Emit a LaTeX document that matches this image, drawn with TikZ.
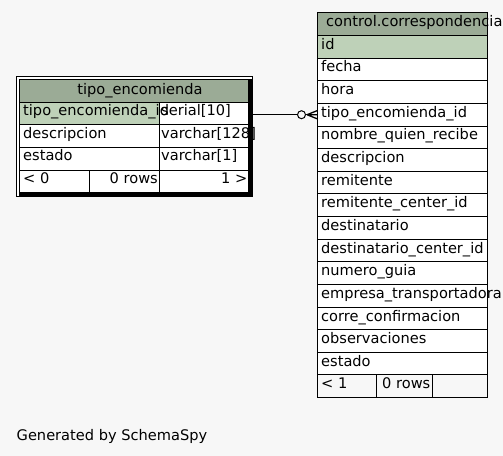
\documentclass[tikz,border=0pt]{standalone}
\usepackage{fontspec}
\setmainfont{DejaVu Sans}
\begin{document}
\begin{tikzpicture}[x=1bp,y=-1bp,
  cell/.style={draw=black, line width=1bp, anchor=north west, inner sep=0pt, minimum height=22.65bp},
  txt/.style={inner sep=0pt, font=\fontsize{14.6bp}{17bp}\selectfont, text=black},
  link/.style={draw=black, line width=1bp}]
\definecolor{bg}{HTML}{F7F7F7}
\definecolor{headbg}{HTML}{9BAB96}
\definecolor{keybg}{HTML}{BED1B8}
\useasboundingbox[fill=bg] (0,0) rectangle (503,456);

% ---------- left table: tipo_encomienda ----------
\node[draw=black, line width=1bp, fill=white, anchor=north west, inner sep=0pt,
      minimum width=236bp, minimum height=120bp] (lefttab) at (16,76) {};
\node[cell, fill=headbg, minimum width=229bp] (lhead) at (19,79) {};
\node[cell, fill=keybg, minimum width=140bp] (lr1a) at (19,101.65) {};
\node[cell, fill=white, minimum width=89bp] (lr1b) at (159,101.65) {};
\node[cell, fill=white, minimum width=140bp] (lr2a) at (19,124.3) {};
\node[cell, fill=white, minimum width=89bp] (lr2b) at (159,124.3) {};
\node[cell, fill=white, minimum width=140bp] (lr3a) at (19,146.95) {};
\node[cell, fill=white, minimum width=89bp] (lr3b) at (159,146.95) {};
\node[cell, fill=white, minimum width=70bp] (lf1) at (19,169.6) {};
\node[cell, fill=white, minimum width=70bp] (lf2) at (89,169.6) {};
\node[cell, fill=white, minimum width=89bp] (lf3) at (159,169.6) {};

% thick right and bottom edge
\fill[black] (248.5,79) rectangle (252.5,196.5);
\fill[black] (19,192.5) rectangle (252.5,196.5);

\node[txt, anchor=base] (lht) at (140,95) {tipo\_encomienda};
\node[txt, anchor=base west] (l1a) at (23,115.6) {tipo\_encomienda\_id};
\node[txt, anchor=base west] (l1b) at (161,115.6) {serial[10]};
\node[txt, anchor=base west] (l2a) at (23,138.3) {descripcion};
\node[txt, anchor=base west] (l2b) at (161,138.3) {varchar[128]};
\node[txt, anchor=base west] (l3a) at (23,161) {estado};
\node[txt, anchor=base west] (l3b) at (161,161) {varchar[1]};
\node[txt, anchor=base west] (lft1) at (23,183.6) {< 0};
\node[txt, anchor=base east] (lft2) at (158,183.6) {0 rows};
\node[txt, anchor=base east] (lft3) at (247.5,183.6) {1 >};

% ---------- right table: control.correspondencia ----------
\node[cell, fill=headbg, minimum width=170bp] (rhead) at (317,12.3) {};
\foreach \nm [count=\i] in {id,fecha,hora,tipo\_encomienda\_id,nombre\_quien\_recibe,descripcion,remitente,remitente\_center\_id,destinatario,destinatario\_center\_id,numero\_guia,empresa\_transportadora,corre\_confirmacion,observaciones,estado}{
  \pgfmathsetmacro{\ty}{12.3+22.65*\i}
  \ifnum\i=1
    \node[cell, fill=keybg, minimum width=170bp] (rr\i) at (317,\ty) {};
  \else
    \node[cell, fill=white, minimum width=170bp] (rr\i) at (317,\ty) {};
  \fi
  \node[txt, anchor=base west] (rt\i) at (321,\ty+14.4) {\nm};
}
\node[cell, fill=bg, minimum width=59bp] (rf1) at (317,374.05) {};
\node[cell, fill=bg, minimum width=55.5bp] (rf2) at (376,374.05) {};
\node[cell, fill=bg, minimum width=55.5bp] (rf3) at (431.5,374.05) {};
\node[txt, anchor=west] (rht) at (326,23.6) {\strut control.correspondencia};
\node[txt, anchor=base west] (rft1) at (321,388.4) {< 1};
\node[txt, anchor=base east] (rft2) at (430.5,388.4) {0 rows};

% ---------- relationship ----------
\coordinate (fkend) at (rr4.west);
\coordinate (cc) at ([xshift=-15.5bp]fkend);
\draw[link] (lefttab.east |- cc) -- ([xshift=-4bp]cc);
\draw[link] (cc) circle[radius=4bp];
\draw[link] ([xshift=4bp]cc) -- ([xshift=5.5bp]cc);
\draw[link, line width=1.3bp] ([xshift=5.5bp]cc) -- ([yshift=-4bp]fkend)
      ([xshift=5.5bp]cc) -- (fkend)
      ([xshift=5.5bp]cc) -- ([yshift=4bp]fkend);

\node[txt, anchor=base west] (gen) at (16.5,440) {Generated by SchemaSpy};
\end{tikzpicture}
\end{document}
